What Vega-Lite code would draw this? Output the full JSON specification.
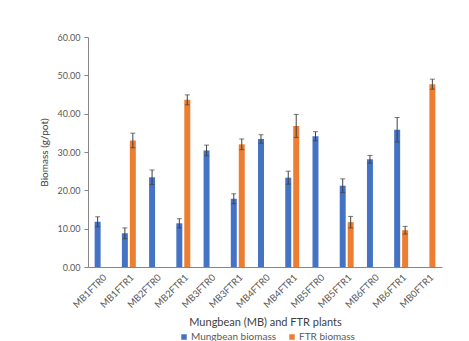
{
  "$schema": "https://vega.github.io/schema/vega-lite/v6.json",
  "width": 354,
  "height": 230,
  "autosize": {"type": "none"},
  "padding": {"left": 88, "top": 37, "right": 27, "bottom": 74},
  "background": "white",
  "config": {
    "font": "Lato",
    "view": {"stroke": null},
    "axis": {"labelColor": "#595959", "titleColor": "#404040", "domainColor": "#868686", "tickColor": "#868686", "grid": false, "labelFont": "Lato", "titleFont": "Lato", "titleFontWeight": "normal"},
    "axisY": {"values": [0, 10, 20, 30, 40, 50, 60], "format": ".2f", "labelOverlap": false, "labelFlush": false, "labelFontSize": 9, "tickSize": 4, "labelPadding": 4, "titleFontSize": 10, "titlePadding": 7},
    "legend": {"labelColor": "#595959", "labelFont": "Lato"}
  },
  "data": {
    "values": [
      {"plant": "MB1FTR0", "series": "Mungbean biomass", "biomass": 11.8, "lo": 10.5, "hi": 13.1},
      {"plant": "MB1FTR1", "series": "Mungbean biomass", "biomass": 8.8, "lo": 7.4, "hi": 10.2},
      {"plant": "MB1FTR1", "series": "FTR biomass", "biomass": 33.0, "lo": 31.1, "hi": 34.9},
      {"plant": "MB2FTR0", "series": "Mungbean biomass", "biomass": 23.4, "lo": 21.5, "hi": 25.3},
      {"plant": "MB2FTR1", "series": "Mungbean biomass", "biomass": 11.4, "lo": 10.2, "hi": 12.6},
      {"plant": "MB2FTR1", "series": "FTR biomass", "biomass": 43.6, "lo": 42.3, "hi": 44.9},
      {"plant": "MB3FTR0", "series": "Mungbean biomass", "biomass": 30.4, "lo": 29.0, "hi": 31.8},
      {"plant": "MB3FTR1", "series": "Mungbean biomass", "biomass": 17.8, "lo": 16.5, "hi": 19.1},
      {"plant": "MB3FTR1", "series": "FTR biomass", "biomass": 32.0, "lo": 30.6, "hi": 33.4},
      {"plant": "MB4FTR0", "series": "Mungbean biomass", "biomass": 33.4, "lo": 32.3, "hi": 34.5},
      {"plant": "MB4FTR1", "series": "Mungbean biomass", "biomass": 23.3, "lo": 21.6, "hi": 25.0},
      {"plant": "MB4FTR1", "series": "FTR biomass", "biomass": 36.8, "lo": 33.8, "hi": 39.8},
      {"plant": "MB5FTR0", "series": "Mungbean biomass", "biomass": 34.1, "lo": 32.9, "hi": 35.3},
      {"plant": "MB5FTR1", "series": "Mungbean biomass", "biomass": 21.2, "lo": 19.4, "hi": 23.0},
      {"plant": "MB5FTR1", "series": "FTR biomass", "biomass": 11.7, "lo": 10.2, "hi": 13.2},
      {"plant": "MB6FTR0", "series": "Mungbean biomass", "biomass": 28.1, "lo": 27.1, "hi": 29.1},
      {"plant": "MB6FTR1", "series": "Mungbean biomass", "biomass": 35.8, "lo": 32.6, "hi": 39.0},
      {"plant": "MB6FTR1", "series": "FTR biomass", "biomass": 9.6, "lo": 8.6, "hi": 10.6},
      {"plant": "MB0FTR1", "series": "FTR biomass", "biomass": 47.7, "lo": 46.4, "hi": 49.0}
    ]
  },
  "encoding": {
    "x": {
      "field": "plant", "type": "nominal", "sort": null,
      "scale": {"paddingInner": 0.4, "paddingOuter": 0.2},
      "axis": {"labelAngle": -45, "labelFontSize": 9.5, "ticks": false, "title": "Mungbean (MB) and FTR plants", "titleFontSize": 11, "titlePadding": 7, "labelPadding": 5}
    },
    "xOffset": {
      "field": "series", "type": "nominal",
      "scale": {"domain": ["Mungbean biomass", "FTR biomass"], "paddingInner": 0.25, "paddingOuter": 0.15}
    }
  },
  "layer": [
    {
      "mark": {"type": "bar"},
      "encoding": {
        "y": {
          "field": "biomass", "type": "quantitative",
          "scale": {"domain": [0, 60], "nice": false},
          "title": "Biomass (g/pot)"
        },
        "color": {
          "field": "series", "type": "nominal",
          "scale": {"domain": ["Mungbean biomass", "FTR biomass"], "range": ["#4472C4", "#ED7D31"]},
          "legend": {"title": null, "orient": "none", "legendX": 91, "legendY": 295, "direction": "horizontal", "symbolType": "square", "symbolSize": 30, "symbolStrokeWidth": 0, "labelFontSize": 10, "labelOffset": 2, "columnPadding": 10}
        }
      }
    },
    {
      "mark": {"type": "rule", "color": "#404040", "strokeWidth": 1},
      "encoding": {
        "y": {"field": "lo", "type": "quantitative", "title": "Biomass (g/pot)"},
        "y2": {"field": "hi"}
      }
    },
    {
      "mark": {"type": "tick", "color": "#404040", "size": 5, "thickness": 1},
      "encoding": {"y": {"field": "hi", "type": "quantitative", "title": "Biomass (g/pot)"}}
    },
    {
      "mark": {"type": "tick", "color": "#404040", "size": 5, "thickness": 1},
      "encoding": {"y": {"field": "lo", "type": "quantitative", "title": "Biomass (g/pot)"}}
    }
  ]
}
